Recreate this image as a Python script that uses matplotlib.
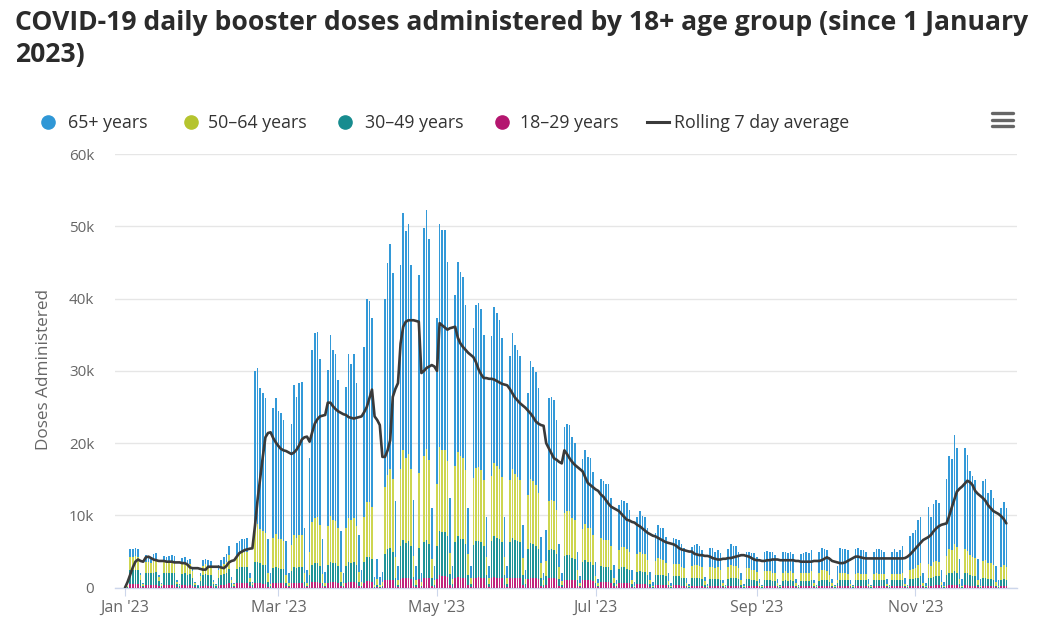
import numpy as np
import pandas as pd
import matplotlib
matplotlib.use("Agg")
import matplotlib.pyplot as plt
from matplotlib.ticker import FuncFormatter, FixedLocator

# ---------------- data (thousands of doses per day, starting 1 Jan 2023) ----------------
start_date = "2023-01-01"

age_18_29 = [0.0,
    0.0, 0.5, 0.5, 0.5, 0.5, 0.2, 0.1,
    0.4, 0.4, 0.4, 0.4, 0.4, 0.2, 0.1,
    0.4, 0.4, 0.4, 0.4, 0.4, 0.1, 0.0,
    0.4, 0.4, 0.3, 0.4, 0.3, 0.1, 0.0,
    0.2, 0.3, 0.4, 0.3, 0.3, 0.1, 0.0,
    0.3, 0.4, 0.4, 0.5, 0.6, 0.1, 0.1,
    0.6, 0.7, 0.7, 0.7, 0.7, 0.2, 0.1,
    0.6, 0.6, 0.6, 0.5, 0.5, 0.1, 0.0,
    0.6, 0.7, 0.6, 0.6, 0.6, 0.2, 0.1,
    0.6, 0.7, 0.7, 0.7, 0.7, 0.2, 0.1,
    0.4, 0.8, 0.8, 0.8, 0.7, 0.2, 0.1,
    0.7, 0.8, 0.8, 0.8, 0.7, 0.2, 0.1,
    0.7, 0.8, 0.8, 0.8, 0.7, 0.2, 0.1,
    0.7, 0.9, 0.9, 0.8, 0.0, 0.1, 0.0,
    0.1, 1.0, 1.1, 1.1, 1.0, 0.3, 0.1,
    1.2, 1.4, 1.3, 1.4, 1.2, 0.3, 0.1,
    1.2, 0.1, 1.3, 1.4, 1.3, 0.3, 0.1,
    1.2, 1.7, 1.6, 1.6, 1.5, 0.4, 0.1,
    1.3, 1.5, 1.4, 1.4, 1.3, 0.4, 0.1,
    1.3, 1.4, 1.5, 1.4, 1.3, 0.4, 0.1,
    1.3, 1.5, 1.4, 1.4, 1.3, 0.4, 0.1,
    1.3, 1.4, 1.4, 1.3, 1.3, 0.4, 0.1,
    1.2, 1.4, 1.4, 1.3, 1.2, 0.3, 0.1,
    0.4, 1.3, 1.3, 1.3, 1.2, 0.3, 0.1,
    1.1, 1.1, 1.1, 1.0, 1.0, 0.3, 0.1,
    1.0, 1.1, 1.0, 1.0, 0.9, 0.2, 0.1,
    0.8, 0.8, 0.8, 0.8, 0.7, 0.2, 0.1,
    0.6, 0.7, 0.7, 0.6, 0.6, 0.1, 0.0,
    0.5, 0.5, 0.5, 0.5, 0.4, 0.1, 0.0,
    0.4, 0.4, 0.4, 0.4, 0.4, 0.1, 0.0,
    0.4, 0.4, 0.4, 0.3, 0.3, 0.1, 0.0,
    0.3, 0.3, 0.3, 0.3, 0.3, 0.1, 0.0,
    0.3, 0.3, 0.3, 0.3, 0.3, 0.1, 0.0,
    0.3, 0.3, 0.3, 0.3, 0.3, 0.1, 0.0,
    0.3, 0.3, 0.3, 0.3, 0.2, 0.1, 0.0,
    0.3, 0.3, 0.3, 0.2, 0.2, 0.1, 0.0,
    0.2, 0.3, 0.2, 0.3, 0.2, 0.1, 0.0,
    0.2, 0.2, 0.2, 0.2, 0.3, 0.1, 0.0,
    0.2, 0.3, 0.3, 0.3, 0.2, 0.1, 0.0,
    0.2, 0.3, 0.3, 0.3, 0.3, 0.1, 0.0,
    0.3, 0.3, 0.3, 0.3, 0.3, 0.1, 0.0,
    0.3, 0.3, 0.3, 0.3, 0.3, 0.1, 0.0,
    0.3, 0.3, 0.3, 0.3, 0.3, 0.1, 0.0,
    0.3, 0.3, 0.3, 0.3, 0.4, 0.1, 0.0,
    0.3, 0.3, 0.3, 0.4, 0.4, 0.1, 0.0,
    0.3, 0.4, 0.4, 0.4, 0.4, 0.1, 0.0,
    0.4, 0.4, 0.3, 0.3, 0.3, 0.1, 0.0,
    0.3, 0.3, 0.3, 0.3, 0.2, 0.1, 0.0,
    0.2, 0.3, 0.2]

age_30_49 = [0.0,
    0.1, 2.0, 2.0, 2.0, 2.0, 0.8, 0.2,
    1.7, 1.6, 1.6, 1.7, 1.8, 0.7, 0.2,
    1.6, 1.6, 1.6, 1.7, 1.6, 0.4, 0.2,
    1.5, 1.6, 1.4, 1.5, 1.0, 0.3, 0.2,
    0.7, 1.4, 1.5, 1.4, 1.4, 0.4, 0.2,
    1.1, 1.3, 1.5, 1.6, 2.0, 0.5, 0.2,
    2.0, 2.1, 2.2, 2.2, 2.2, 0.6, 0.3,
    3.0, 3.0, 2.8, 2.7, 2.6, 0.7, 0.2,
    2.1, 2.2, 2.1, 2.0, 2.0, 0.5, 0.2,
    1.7, 2.1, 2.0, 2.1, 2.1, 0.6, 0.2,
    1.3, 2.4, 2.6, 2.6, 2.3, 0.5, 0.2,
    2.4, 2.8, 2.6, 2.6, 2.3, 0.6, 0.2,
    2.3, 2.7, 2.6, 2.7, 2.4, 0.6, 0.2,
    2.8, 3.4, 3.4, 3.2, 0.1, 0.3, 0.1,
    0.2, 3.7, 4.2, 4.4, 4.0, 1.1, 0.3,
    4.5, 5.2, 4.9, 5.0, 4.5, 1.2, 0.3,
    4.3, 0.2, 5.0, 5.2, 4.8, 1.1, 0.3,
    4.6, 6.2, 6.1, 6.1, 5.6, 1.5, 0.4,
    5.0, 5.6, 5.4, 5.3, 4.8, 1.4, 0.4,
    4.6, 5.0, 5.0, 4.9, 4.5, 1.3, 0.4,
    5.1, 5.7, 5.5, 5.4, 5.0, 1.4, 0.4,
    5.0, 5.5, 5.2, 5.1, 5.0, 1.4, 0.4,
    4.1, 4.8, 4.7, 4.5, 4.2, 1.1, 0.3,
    1.2, 3.9, 4.0, 3.9, 3.5, 0.9, 0.3,
    3.3, 3.4, 3.4, 3.1, 3.0, 0.8, 0.2,
    2.6, 2.8, 2.6, 2.6, 2.3, 0.5, 0.2,
    2.2, 2.1, 2.1, 2.1, 1.8, 0.4, 0.1,
    2.0, 2.1, 2.1, 2.0, 1.9, 0.4, 0.1,
    1.7, 1.8, 1.7, 1.7, 1.4, 0.4, 0.1,
    1.3, 1.4, 1.4, 1.4, 1.2, 0.3, 0.1,
    1.2, 1.2, 1.2, 1.1, 1.0, 0.2, 0.1,
    1.0, 1.0, 1.0, 1.0, 0.9, 0.3, 0.1,
    0.9, 0.9, 0.9, 0.9, 0.8, 0.2, 0.1,
    0.9, 1.0, 1.0, 1.0, 0.9, 0.3, 0.1,
    0.9, 0.9, 0.8, 0.8, 0.7, 0.2, 0.1,
    0.8, 0.8, 0.8, 0.7, 0.7, 0.2, 0.1,
    0.7, 0.8, 0.7, 0.8, 0.7, 0.2, 0.1,
    0.7, 0.7, 0.7, 0.7, 0.8, 0.2, 0.1,
    0.7, 0.8, 0.8, 0.8, 0.6, 0.2, 0.1,
    0.4, 0.8, 0.8, 0.8, 0.7, 0.2, 0.1,
    0.7, 0.8, 0.7, 0.7, 0.7, 0.2, 0.1,
    0.7, 0.8, 0.7, 0.7, 0.7, 0.2, 0.1,
    0.7, 0.7, 0.7, 0.7, 0.8, 0.2, 0.1,
    0.9, 0.9, 1.0, 1.1, 1.2, 0.2, 0.1,
    1.1, 1.0, 1.2, 1.2, 1.2, 0.3, 0.1,
    1.4, 1.6, 1.6, 1.9, 1.7, 0.4, 0.1,
    1.7, 1.6, 1.4, 1.3, 1.3, 0.3, 0.1,
    1.0, 1.1, 0.9, 0.9, 0.9, 0.2, 0.1,
    0.8, 0.9, 0.8]

age_50_64 = [0.0,
    0.1, 1.8, 1.8, 1.9, 1.8, 0.7, 0.2,
    1.5, 1.5, 1.4, 1.6, 1.6, 0.6, 0.2,
    1.5, 1.5, 1.5, 1.5, 1.5, 0.3, 0.2,
    1.4, 1.4, 1.3, 1.4, 1.0, 0.3, 0.1,
    0.7, 1.3, 1.4, 1.3, 1.3, 0.3, 0.2,
    1.1, 1.3, 1.4, 1.5, 1.9, 0.5, 0.2,
    1.9, 2.0, 2.1, 2.1, 2.1, 0.6, 0.2,
    5.1, 5.2, 4.7, 4.6, 4.5, 1.2, 0.3,
    4.2, 4.5, 4.1, 4.1, 3.9, 1.1, 0.3,
    3.6, 4.5, 4.2, 4.5, 4.5, 1.3, 0.4,
    3.2, 5.9, 6.3, 6.4, 5.7, 1.2, 0.4,
    5.4, 6.3, 5.9, 5.8, 5.2, 1.4, 0.4,
    5.3, 6.2, 5.9, 6.2, 5.4, 1.4, 0.5,
    6.3, 7.6, 7.5, 7.1, 0.3, 0.8, 0.3,
    0.5, 9.2, 10.3, 10.9, 10.0, 2.8, 0.7,
    10.7, 12.5, 11.8, 12.1, 10.7, 2.9, 0.7,
    10.4, 0.5, 11.9, 12.6, 11.6, 2.6, 0.7,
    8.6, 11.6, 11.4, 11.4, 10.4, 2.9, 0.7,
    10.5, 11.7, 11.4, 11.2, 10.2, 2.9, 0.8,
    9.3, 10.2, 10.2, 10.0, 9.1, 2.5, 0.8,
    9.0, 10.1, 9.9, 9.6, 9.0, 2.5, 0.8,
    8.6, 9.5, 9.1, 8.9, 8.6, 2.3, 0.7,
    7.5, 8.8, 8.6, 8.4, 7.7, 2.0, 0.6,
    2.1, 6.8, 6.9, 6.8, 6.0, 1.6, 0.5,
    6.0, 6.1, 6.1, 5.6, 5.4, 1.4, 0.4,
    4.5, 4.9, 4.6, 4.6, 4.1, 0.9, 0.3,
    3.9, 3.7, 3.7, 3.7, 3.2, 0.8, 0.3,
    2.6, 2.8, 2.8, 2.7, 2.5, 0.6, 0.2,
    2.5, 2.7, 2.5, 2.5, 2.1, 0.6, 0.2,
    2.0, 2.3, 2.2, 2.1, 1.8, 0.5, 0.2,
    1.7, 1.7, 1.7, 1.5, 1.4, 0.3, 0.1,
    1.7, 1.8, 1.8, 1.7, 1.6, 0.5, 0.2,
    1.7, 1.7, 1.5, 1.6, 1.4, 0.3, 0.1,
    1.6, 1.8, 1.7, 1.7, 1.5, 0.6, 0.2,
    1.5, 1.5, 1.4, 1.4, 1.3, 0.4, 0.1,
    1.2, 1.2, 1.2, 1.2, 1.1, 0.3, 0.1,
    1.2, 1.2, 1.2, 1.2, 1.1, 0.3, 0.1,
    1.1, 1.2, 1.2, 1.2, 1.2, 0.3, 0.1,
    1.2, 1.3, 1.3, 1.2, 1.0, 0.3, 0.1,
    0.5, 0.9, 0.9, 0.9, 0.9, 0.2, 0.1,
    0.9, 0.9, 0.9, 0.9, 0.9, 0.2, 0.1,
    0.9, 0.9, 0.9, 0.9, 0.9, 0.2, 0.1,
    0.9, 0.9, 0.9, 0.9, 1.0, 0.2, 0.1,
    1.3, 1.4, 1.4, 1.7, 1.8, 0.4, 0.1,
    1.9, 1.7, 2.0, 2.1, 2.0, 0.4, 0.1,
    2.7, 3.3, 3.2, 3.8, 3.5, 0.7, 0.2,
    3.3, 3.1, 2.8, 2.6, 2.5, 0.7, 0.2,
    2.4, 2.5, 2.2, 2.2, 2.0, 0.5, 0.2,
    1.8, 1.9, 1.8]

age_65_plus = [0.0,
    0.1, 1.0, 1.0, 1.1, 1.0, 0.4, 0.1,
    0.9, 0.9, 0.8, 0.9, 1.0, 0.3, 0.1,
    0.9, 0.8, 0.9, 0.9, 0.9, 0.2, 0.1,
    0.8, 0.8, 0.9, 0.7, 0.5, 0.1, 0.1,
    0.4, 0.8, 0.7, 0.9, 0.7, 0.2, 0.1,
    0.7, 0.8, 1.0, 1.0, 1.3, 0.4, 0.1,
    1.7, 1.7, 1.8, 1.8, 1.9, 0.6, 0.2,
    21.3, 21.6, 19.5, 19.1, 18.6, 4.8, 1.5,
    17.9, 18.8, 17.6, 17.4, 16.7, 4.6, 1.4,
    16.7, 20.7, 19.5, 21.0, 21.1, 6.1, 1.7,
    13.0, 23.8, 25.5, 25.6, 23.0, 4.9, 1.5,
    21.6, 25.1, 23.6, 23.2, 20.5, 5.6, 1.4,
    19.5, 22.7, 21.7, 22.7, 19.8, 5.1, 1.6,
    23.5, 28.1, 27.8, 26.2, 1.1, 2.8, 1.1,
    1.4, 26.1, 29.3, 31.2, 28.5, 7.8, 1.9,
    28.2, 32.8, 31.3, 31.8, 28.2, 7.7, 1.9,
    27.4, 1.2, 31.5, 33.1, 30.5, 7.0, 1.9,
    22.9, 30.8, 30.4, 30.4, 27.6, 7.6, 1.8,
    23.7, 26.3, 25.5, 25.1, 22.8, 6.3, 1.7,
    20.7, 22.5, 22.7, 22.2, 20.1, 5.6, 1.7,
    19.4, 21.5, 21.2, 20.7, 19.2, 5.5, 1.7,
    17.1, 18.9, 17.9, 17.6, 17.1, 4.6, 1.3,
    14.1, 16.3, 15.9, 15.7, 14.5, 3.6, 1.0,
    4.3, 14.2, 14.2, 14.0, 12.5, 3.3, 1.1,
    11.9, 12.0, 11.9, 11.2, 10.6, 2.5, 0.9,
    9.7, 10.3, 9.9, 9.8, 8.7, 2.0, 0.6,
    8.2, 8.1, 7.8, 7.8, 6.7, 1.7, 0.5,
    6.2, 6.5, 6.4, 6.4, 5.7, 1.4, 0.5,
    5.1, 5.6, 5.2, 5.1, 4.3, 1.1, 0.5,
    3.9, 4.6, 4.3, 4.3, 3.6, 1.1, 0.3,
    3.6, 3.4, 3.3, 3.2, 2.8, 0.7, 0.3,
    2.6, 2.8, 2.9, 2.7, 2.4, 0.6, 0.2,
    2.6, 2.6, 2.3, 2.4, 2.3, 0.5, 0.2,
    2.5, 2.9, 2.8, 2.7, 2.3, 1.0, 0.2,
    2.3, 2.3, 2.3, 2.3, 2.0, 0.5, 0.2,
    2.7, 2.8, 2.7, 2.8, 2.5, 0.6, 0.2,
    2.8, 2.7, 2.7, 2.7, 2.6, 0.6, 0.2,
    2.6, 2.7, 2.8, 2.7, 2.9, 0.5, 0.2,
    2.8, 3.1, 2.9, 2.9, 2.5, 0.6, 0.2,
    1.9, 3.5, 3.4, 3.4, 3.3, 0.6, 0.2,
    3.4, 3.5, 3.3, 3.3, 3.1, 0.7, 0.2,
    3.1, 3.4, 3.4, 3.3, 3.1, 0.7, 0.2,
    3.1, 3.4, 3.1, 3.3, 3.7, 0.8, 0.2,
    4.7, 4.9, 5.3, 6.2, 6.4, 1.3, 0.4,
    7.9, 6.8, 8.1, 8.4, 8.1, 1.7, 0.6,
    10.7, 12.9, 12.6, 15.0, 13.7, 2.8, 0.9,
    13.9, 13.3, 11.7, 11.3, 10.8, 2.9, 0.9,
    11.0, 11.1, 9.7, 10.1, 9.3, 2.2, 0.7,
    8.2, 8.8, 8.2]

rolling_7day = [
    0.0, 0.8, 1.8, 2.8, 3.6, 3.9, 3.7, 3.6, 4.2, 4.3,
    4.1, 3.9, 3.8, 3.7, 3.7, 3.7, 3.6, 3.6, 3.6, 3.5,
    3.5, 3.5, 3.4, 3.4, 3.2, 2.8, 2.7, 2.7, 2.7, 2.6,
    2.5, 2.5, 2.9, 2.9, 2.9, 2.9, 2.9, 2.8, 2.7, 3.0,
    3.5, 3.7, 3.8, 4.3, 4.8, 5.0, 5.2, 5.3, 5.4, 5.45,
    8.6, 12.2, 15.2, 18.1, 20.8, 21.4, 21.5, 20.7, 20.1, 19.6,
    19.2, 19.0, 18.9, 18.7, 18.5, 18.7, 19.1, 19.7, 20.5, 20.8,
    20.9, 20.2, 21.5, 22.7, 23.3, 23.7, 23.8, 23.9, 25.6, 25.6,
    25.1, 24.7, 24.4, 24.2, 24.0, 23.9, 23.6, 23.5, 23.4, 23.5,
    23.6, 23.7, 24.3, 25.0, 26.2, 27.4, 23.7, 23.2, 22.5, 18.1,
    18.1, 19.0, 20.4, 26.4, 27.5, 28.3, 33.8, 36.1, 36.8, 37.0,
    37.0, 37.0, 36.9, 36.8, 29.7, 30.0, 30.4, 30.6, 30.8, 30.6,
    30.0, 36.6, 36.3, 36.0, 35.7, 35.9, 36.0, 36.1, 34.6, 33.8,
    33.3, 32.9, 32.5, 32.2, 31.9, 31.2, 30.2, 29.5, 29.0, 29.0,
    28.9, 28.9, 28.8, 28.6, 28.4, 28.2, 28.1, 28.0, 27.5, 26.9,
    26.3, 25.9, 25.5, 25.2, 24.9, 24.5, 24.1, 23.6, 23.0, 22.7,
    22.5, 22.4, 20.0, 19.3, 18.6, 17.9, 17.7, 17.4, 17.2, 19.0,
    18.5, 17.9, 17.4, 17.0, 16.7, 16.4, 16.1, 15.3, 14.5, 14.2,
    13.9, 13.6, 13.4, 12.9, 12.6, 12.1, 11.6, 11.2, 11.0, 10.8,
    10.6, 10.2, 9.8, 9.4, 9.3, 9.1, 9.0, 8.7, 8.5, 8.2,
    7.9, 7.6, 7.4, 7.2, 7.1, 6.9, 6.7, 6.5, 6.3, 6.2,
    6.1, 6.0, 5.8, 5.5, 5.3, 5.2, 5.1, 5.0, 5.0, 4.7,
    4.6, 4.5, 4.5, 4.4, 4.4, 4.3, 4.1, 4.0, 3.9, 3.9,
    4.0, 4.0, 4.1, 4.1, 4.2, 4.3, 4.4, 4.5, 4.5, 4.4,
    4.3, 4.1, 3.9, 3.8, 3.8, 3.7, 3.7, 3.8, 3.8, 3.9,
    3.9, 3.9, 3.8, 3.8, 3.8, 3.8, 3.8, 3.8, 3.7, 3.7,
    3.6, 3.6, 3.6, 3.6, 3.6, 3.7, 3.7, 3.7, 3.8, 4.0,
    4.2, 4.0, 3.7, 3.6, 3.5, 3.4, 3.4, 3.5, 3.7, 3.9,
    4.1, 4.3, 4.3, 4.2, 4.1, 4.05, 4.05, 4.05, 4.05, 4.05,
    4.05, 4.05, 4.05, 4.05, 4.05, 4.05, 4.05, 4.05, 4.05, 4.05,
    4.1, 4.3, 4.6, 5.0, 5.4, 5.8, 6.2, 6.6, 6.8, 7.0,
    7.3, 7.8, 8.2, 8.5, 8.7, 8.8, 8.9, 9.9, 11.1, 12.2,
    13.3, 13.7, 14.0, 14.4, 14.8, 14.6, 14.2, 13.4, 13.0, 12.7,
    12.4, 12.0, 11.4, 11.0, 10.6, 10.4, 10.2, 9.9, 9.5, 8.9]

series_labels = ["65+ years", "50\u201364 years", "30\u201349 years", "18\u201329 years"]
line_label = "Rolling 7 day average"
tick_dates = ["2023-01-01", "2023-03-01", "2023-05-01", "2023-07-01", "2023-09-01", "2023-11-01"]
tick_labels = ["Jan '23", "Mar '23", "May '23", "Jul '23", "Sep '23", "Nov '23"]
y_ticks = [0, 10, 20, 30, 40, 50, 60]
title_lines = ["COVID-19 daily booster doses administered by 18+ age group (since 1 January", "2023)"]
y_title = "Doses Administered"

# ---------------- style ----------------
C_BLUE = "#2f97d6"
C_YELLOW = "#b5c42e"
C_TEAL = "#178c8f"
C_MAGENTA = "#b4166f"
BAR_BLUE = "#3399d8"
BAR_YELLOW = "#cdd650"
BAR_TEAL = "#1f9396"
BAR_MAGENTA = "#c0247c"
C_LINE = "#3a3a3a"

plt.rcParams['font.family'] = ['Open Sans', 'DejaVu Sans']

W, H = 1054, 635
fig = plt.figure(figsize=(W / 100, H / 100), dpi=100)
L, R, T, B = 115, 1017, 154, 587.7
ax = fig.add_axes([L / W, 1 - B / H, (R - L) / W, (B - T) / H])

n = min(len(age_18_29), len(age_30_49), len(age_50_64), len(age_65_plus))
x = np.arange(n)
stack = [(np.array(age_18_29[:n]), BAR_MAGENTA),
         (np.array(age_30_49[:n]), BAR_TEAL),
         (np.array(age_50_64[:n]), BAR_YELLOW),
         (np.array(age_65_plus[:n]), BAR_BLUE)]
bottom = np.zeros(n)
for vals, col in stack:
    ax.bar(x, vals, width=0.6, bottom=bottom, color=col, linewidth=0, zorder=2)
    bottom = bottom + vals

ax.plot(np.arange(len(rolling_7day)), rolling_7day, color=C_LINE, lw=1.9,
        zorder=4, solid_joinstyle='round', solid_capstyle='round')

ax.set_xlim(-3.85, 343.1)
ax.set_ylim(0, 60)

t0 = pd.Timestamp(start_date)
tick_pos = [(pd.Timestamp(d) - t0).days for d in tick_dates]
ax.xaxis.set_major_locator(FixedLocator(tick_pos))
ax.set_xticklabels(tick_labels)
ax.yaxis.set_major_locator(FixedLocator(y_ticks))
ax.yaxis.set_major_formatter(FuncFormatter(lambda v, _: "0" if v == 0 else f"{int(v)}k"))

ax.grid(axis='y', color='#e6e6e6', lw=1.0, zorder=0)
ax.set_axisbelow(True)
for s in ['top', 'right', 'left']:
    ax.spines[s].set_visible(False)
ax.spines['bottom'].set_color('#ccd6eb')
ax.spines['bottom'].set_linewidth(1.0)
ax.spines['bottom'].set_zorder(1)

ax.tick_params(axis='y', length=0, pad=15, labelsize=11, labelcolor='#666666')
ax.tick_params(axis='x', length=6, width=0.8, color='#ccd6eb', pad=3,
               labelsize=11.5, labelcolor='#666666')

fig.text(44 / W, 1 - 370 / H, y_title, rotation=90, ha='center', va='center',
         fontsize=12.3, color='#666666')

# ---------------- title ----------------
fig.text(15 / W, 1 - 29.5 / H, title_lines[0], fontsize=19.1, fontweight='bold',
         color='#2b2b2b', ha='left', va='baseline')
fig.text(15 / W, 1 - 61.8 / H, title_lines[1], fontsize=19.1, fontweight='bold',
         color='#2b2b2b', ha='left', va='baseline')

# ---------------- legend (pixel overlay) ----------------
ov = fig.add_axes([0, 0, 1, 1], facecolor='none')
ov.set_xlim(0, W)
ov.set_ylim(H, 0)
ov.axis('off')
leg_y = 122
markers = [(48, C_BLUE, 67.5), (190.5, C_YELLOW, 208), (344.5, C_TEAL, 365), (502, C_MAGENTA, 520)]
for (cx, col, tx), lab in zip(markers, series_labels):
    ov.plot([cx], [leg_y], marker='o', ms=9.5, color=col, mec=col, ls='none')
    ov.text(tx, leg_y + 0.5, lab, fontsize=12.8, color='#333333', ha='left', va='center')
ov.plot([647, 669], [leg_y, leg_y], color=C_LINE, lw=2.2)
ov.text(673.5, leg_y + 0.5, line_label, fontsize=12.8, color='#333333', ha='left', va='center')

# hamburger menu icon
for yy in (113, 119.5, 126):
    ov.plot([992, 1013], [yy, yy], color='#666666', lw=2.4, solid_capstyle='round')

fig.savefig("out.png", dpi=100)
